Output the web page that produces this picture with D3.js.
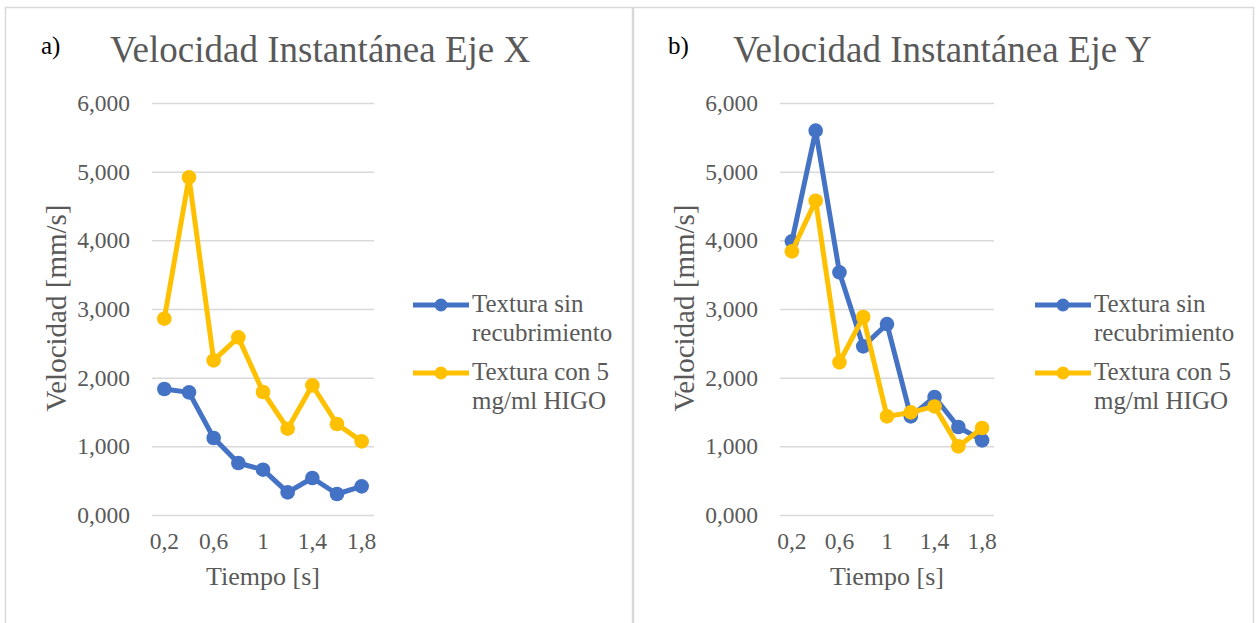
<!DOCTYPE html>
<html>
<head>
<meta charset="utf-8">
<script src="https://cdn.jsdelivr.net/npm/d3@7"></script>
<style>
  body { margin: 0; background: #fff; }
  #chart text { font-family: "Liberation Serif", "Times New Roman", serif !important; }
</style>
</head>
<body>
<svg id="chart" width="1259" height="623" font-family="Liberation Serif"></svg>
<script>
// tiempo [s]
const tiempos = [0.2, 0.4, 0.6, 0.8, 1.0, 1.2, 1.4, 1.6, 1.8];
const xTickVals = [0.2, 0.6, 1.0, 1.4, 1.8];
const yTickVals = [0, 1, 2, 3, 4, 5, 6];

// eje X
const sinRecubX = [1.835, 1.786, 1.121, 0.757, 0.660, 0.329, 0.539, 0.306, 0.417];
const conHigoX  = [2.859, 4.917, 2.251, 2.587, 1.791, 1.257, 1.888, 1.325, 1.072];
// eje Y
const sinRecubY = [3.985, 5.597, 3.533, 2.456, 2.781, 1.436, 1.718, 1.282, 1.087];
const conHigoY  = [3.839, 4.577, 2.223, 2.884, 1.436, 1.494, 1.581, 0.999, 1.267];

const serieNames = ["Textura sin recubrimiento", "Textura con 5 mg/ml HIGO"];
const legendLines = [["Textura sin", "recubrimiento"], ["Textura con 5", "mg/ml HIGO"]];
const colors = ["#4472C4", "#FFC000"];

const es = d3.formatLocale({ decimal: ",", thousands: ".", grouping: [3], currency: ["", ""] });
const yFmt = es.format(".3f");
const xFmt = es.format("~f");

const FONT = "Liberation Serif";
const textGrey = "#595959";
const svg = d3.select("#chart");

// marcos de los paneles
svg.append("rect").attr("x", 5.5).attr("y", 7.5).attr("width", 627).attr("height", 640)
  .attr("fill", "none").attr("stroke", "#d9d9d9").attr("stroke-width", 1.5);
svg.append("rect").attr("x", 633.5).attr("y", 7.5).attr("width", 620).attr("height", 640)
  .attr("fill", "none").attr("stroke", "#d9d9d9").attr("stroke-width", 1.5);

const panels = [
  { tag: "a)", title: "Velocidad Instantánea Eje X", series: [sinRecubX, conHigoX],
    tagX: 41, titleX: 110, left: 152, right: 374, legendX: 413 },
  { tag: "b)", title: "Velocidad Instantánea Eje Y", series: [sinRecubY, conHigoY],
    tagX: 668, titleX: 733, left: 780, right: 994, legendX: 1035 }
];

const plotTop = 103, plotBottom = 515;

panels.forEach(p => {
  const w = p.right - p.left, h = plotBottom - plotTop;
  const g = svg.append("g").attr("transform", `translate(${p.left},${plotTop})`);

  const x = d3.scaleBand().domain(tiempos).range([0, w]).padding(0);
  const y = d3.scaleLinear().domain([0, 6]).range([h, 0]);
  const cx = d => x(d) + x.bandwidth() / 2;

  // titulo
  svg.append("text").attr("x", p.tagX).attr("y", 54).attr("font-family", FONT)
    .attr("font-size", 25).attr("fill", "#000").text(p.tag);
  svg.append("text").attr("x", p.titleX).attr("y", 62).attr("font-family", FONT)
    .attr("font-size", 37).attr("fill", textGrey).text(p.title);

  // eje y + rejilla
  const yAxis = g.append("g")
    .call(d3.axisLeft(y).tickValues(yTickVals).tickSize(-w).tickPadding(22).tickFormat(yFmt))
    .attr("font-family", FONT).attr("font-size", 23.5);
  yAxis.select(".domain").remove();
  yAxis.selectAll("line").attr("stroke", "#d9d9d9").attr("stroke-width", 1.5);
  yAxis.selectAll("text").attr("fill", textGrey);

  // eje x
  const xAxis = g.append("g").attr("transform", `translate(0,${h})`)
    .call(d3.axisBottom(x).tickValues(xTickVals).tickSize(0).tickPadding(17).tickFormat(xFmt))
    .attr("font-family", FONT).attr("font-size", 23.5);
  xAxis.select(".domain").remove();
  xAxis.selectAll("text").attr("fill", textGrey);

  // titulos de ejes
  g.append("text").attr("x", w / 2).attr("y", h + 70).attr("text-anchor", "middle")
    .attr("font-family", FONT).attr("font-size", 26).attr("fill", textGrey).text("Tiempo [s]");
  g.append("text").attr("transform", `translate(-96,${h / 2 - 1}) rotate(-90)`)
    .attr("text-anchor", "middle").attr("dy", "0.35em")
    .attr("font-family", FONT).attr("font-size", 29).attr("fill", textGrey).text("Velocidad [mm/s]");

  // series
  const line = d3.line().x((d, i) => cx(tiempos[i])).y(d => y(d));
  p.series.forEach((vals, si) => {
    g.append("path").datum(vals).attr("d", line)
      .attr("fill", "none").attr("stroke", colors[si]).attr("stroke-width", 5)
      .attr("stroke-linejoin", "round");
    g.selectAll(null).data(vals).enter().append("circle")
      .attr("cx", (d, i) => cx(tiempos[i])).attr("cy", d => y(d)).attr("r", 7.3)
      .attr("fill", colors[si]);
  });

  // leyenda
  const lg = svg.append("g");
  serieNames.forEach((name, si) => {
    const ly = 305 + si * 68;
    lg.append("line").attr("x1", p.legendX).attr("x2", p.legendX + 56)
      .attr("y1", ly).attr("y2", ly).attr("stroke", colors[si]).attr("stroke-width", 5);
    lg.append("circle").attr("cx", p.legendX + 28).attr("cy", ly).attr("r", 6.5).attr("fill", colors[si]);
    const t = lg.append("text").attr("x", p.legendX + 59).attr("y", ly + 7)
      .attr("font-family", FONT).attr("font-size", 25).attr("fill", textGrey);
    legendLines[si].forEach((s, k) => {
      t.append("tspan").attr("x", p.legendX + 59).attr("dy", k === 0 ? 0 : 28.5).text(s);
    });
  });
});
</script>
</body>
</html>
